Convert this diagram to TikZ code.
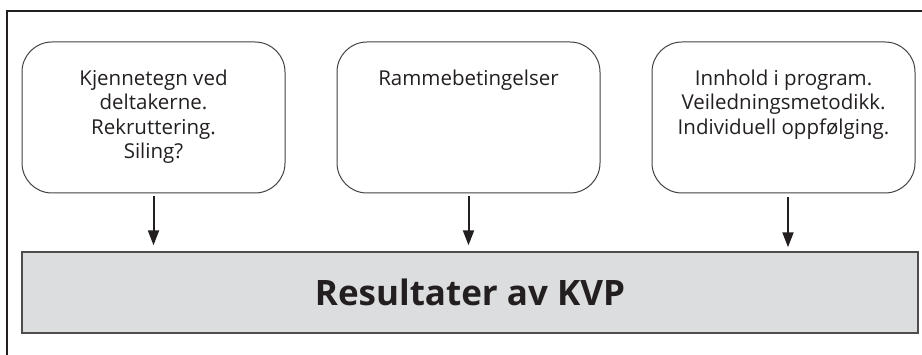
\documentclass[tikz,border=0pt]{standalone}
\usepackage{fontspec}
\setmainfont{Open Sans}
\usepackage{xcolor}
\usetikzlibrary{arrows.meta}
\definecolor{strek}{HTML}{231F20}
\definecolor{graa}{HTML}{DCDDDF}

\begin{document}
\begin{tikzpicture}[%
        x=1pt, y=1pt,
        boks/.style={ rounded corners=30pt, minimum width=263pt, minimum height=151pt, draw=strek!85, line width=1pt, inner sep=0pt },%
        boksetekst/.style={ anchor=north, align=center, inner sep=0pt, text=strek, font=\fontsize{20.5}{24.5}\selectfont },%
        resultat/.style={ minimum width=896pt, minimum height=81pt, fill=graa, draw=strek!80, line width=1.4pt, text=strek, font=\fontsize{35}{40}\selectfont\bfseries },%
        pil/.style={ -{Triangle[length=15pt,width=11pt]}, line width=2pt, draw=strek }%
      ]
      \useasboundingbox (0,0) rectangle (922,355);
      % ramme rundt figuren
      \draw [strek, line width=2.4pt] (7,-5) -- (7,344) -- (930,344);
      % de tre boksene
      \node (kjenn) at (153.5,237.5) [boks]{};
      \node (ramme) at (468.5,237.5) [boks]{};
      \node (innh)  at (783.5,237.5) [boks]{};
      \node (kjenntekst) at ([yshift=-28pt]kjenn.north) [boksetekst]{Kjennetegn ved\\deltakerne.\\Rekruttering.\\Siling?};
      \node (rammetekst) at ([yshift=-28pt]ramme.north) [boksetekst]{Rammebetingelser};
      \node (innhtekst)  at ([yshift=-28pt]innh.north)  [boksetekst]{Innhold i program.\\Veiledningsmetodikk.\\Individuell oppf\o lging.};
      % resultatboksen
      \node (res) at (470,62.5) [resultat]{Resultater av KVP};
      % piler
      \draw [pil] ([yshift=-3pt]kjenn.south) -- ([yshift=6pt]kjenn.south |- res.north);
      \draw [pil] ([yshift=-3pt]ramme.south) -- ([yshift=6pt]ramme.south |- res.north);
      \draw [pil] ([xshift=4.5pt,yshift=-4pt]innh.south) -- ([xshift=4.5pt,yshift=4pt]innh.south |- res.north);
    \end{tikzpicture}
\end{document}
